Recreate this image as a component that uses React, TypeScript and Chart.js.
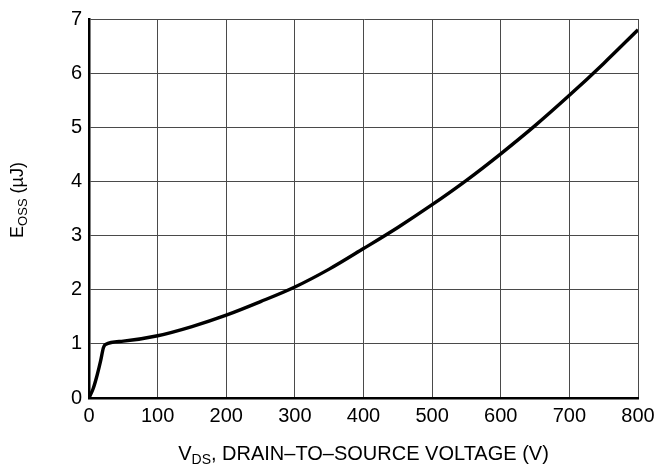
import React, { useEffect, useRef } from "react";
import { Chart, registerables } from "chart.js";

Chart.register(...registerables);

const vds: number[] = [0, 6, 12, 17, 21, 24, 50, 100, 150, 200, 250, 300, 350, 400, 450, 500, 550, 600, 650, 700, 750, 800];
const eoss: number[] = [0, 0.17, 0.43, 0.69, 0.93, 0.99, 1.05, 1.15, 1.32, 1.53, 1.78, 2.05, 2.38, 2.76, 3.15, 3.57, 4.02, 4.51, 5.03, 5.59, 6.18, 6.8];
const xTicks: number[] = [0, 100, 200, 300, 400, 500, 600, 700, 800];
const yTicks: number[] = [0, 1, 2, 3, 4, 5, 6, 7];

const FONT = "'Liberation Sans', Arial, Helvetica, sans-serif";

const titlePlugin = {
  id: "titles",
  afterDraw(chart: any) {
    const ctx = chart.ctx as CanvasRenderingContext2D;
    const area = chart.chartArea;
    ctx.save();
    ctx.fillStyle = "#000";
    ctx.textBaseline = "alphabetic";
    ctx.textAlign = "left";
    // X title
    const big = "20px " + FONT;
    const small = "14px " + FONT;
    const parts: [string, string, number][] = [
      ["V", big, 0],
      ["DS", small, 4],
      [", DRAIN\u2013TO\u2013SOURCE VOLTAGE (V)", big, 0],
    ];
    let total = 0;
    for (const [t, f] of parts) {
      ctx.font = f;
      total += ctx.measureText(t).width;
    }
    let x = (area.left + area.right) / 2 - total / 2;
    const by = 460;
    for (const [t, f, dy] of parts) {
      ctx.font = f;
      ctx.fillText(t, x, by + dy);
      x += ctx.measureText(t).width;
    }
    // Y title
    const ybig = "18px " + FONT;
    const ysmall = "13px " + FONT;
    const yparts: [string, string, number][] = [
      ["E", ybig, 0],
      ["OSS", ysmall, 4],
      [" (\u00b5J)", ybig, 0],
    ];
    total = 0;
    for (const [t, f] of yparts) {
      ctx.font = f;
      total += ctx.measureText(t).width;
    }
    ctx.translate(23, 200);
    ctx.rotate(-Math.PI / 2);
    let px = -total / 2;
    for (const [t, f, dy] of yparts) {
      ctx.font = f;
      ctx.fillText(t, px, dy);
      px += ctx.measureText(t).width;
    }
    ctx.restore();
  },
};

export default function App() {
  const ref = useRef<HTMLCanvasElement>(null);
  useEffect(() => {
    document.body.style.margin = "0";
    const canvas = ref.current!;
    const chart = new Chart(canvas, {
      type: "line",
      data: {
        datasets: [
          {
            data: vds.map((v, i) => ({ x: v, y: eoss[i] })),
            borderColor: "#000",
            borderWidth: 3.4,
            pointRadius: 0,
            cubicInterpolationMode: "monotone",
            fill: false,
          },
        ],
      },
      options: {
        animation: false,
        responsive: false,
        maintainAspectRatio: false,
        layout: { padding: { left: 0, top: 13, right: 25, bottom: 0 } },
        plugins: { legend: { display: false }, tooltip: { enabled: false } },
        scales: {
          x: {
            type: "linear",
            min: 0,
            max: 800,
            afterBuildTicks: (s: any) => {
              s.ticks = xTicks.map((v) => ({ value: v }));
            },
            afterFit: (s: any) => {
              s.height = 71;
            },
            ticks: { color: "#000", font: { family: FONT, size: 20 }, padding: 6, maxRotation: 0, autoSkip: false },
            grid: { color: "#4a4a4a", lineWidth: 1, drawTicks: false },
            border: { display: true, color: "#000", width: 2.5 },
          },
          y: {
            type: "linear",
            min: 0,
            max: 7,
            afterBuildTicks: (s: any) => {
              s.ticks = yTicks.map((v) => ({ value: v }));
            },
            afterFit: (s: any) => {
              s.width = 89;
            },
            ticks: { color: "#000", font: { family: FONT, size: 20 }, padding: 7 },
            grid: { color: "#4a4a4a", lineWidth: 1, drawTicks: false },
            border: { display: true, color: "#000", width: 2.5 },
          },
        },
      },
      plugins: [titlePlugin],
    } as any);
    return () => chart.destroy();
  }, []);
  return (
    <div style={{ width: 663, height: 469, background: "#fff" }}>
      <canvas ref={ref} width={663} height={469} style={{ display: "block" }} />
    </div>
  );
}
